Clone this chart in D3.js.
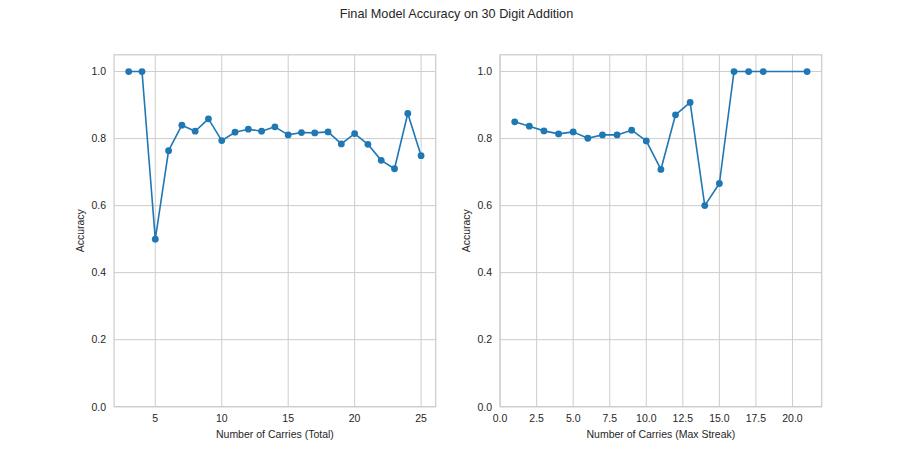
<!DOCTYPE html>
<html>
<head>
<meta charset="utf-8">
<script src="https://cdn.jsdelivr.net/npm/d3@7"></script>
<style>
  body { margin: 0; background: #fff; }
  svg text { font-family: "Liberation Sans", Arial, sans-serif; fill: #262626; }
</style>
</head>
<body>
<div id="chart"></div>
<script>
// Data
const totalCarries = [3, 4, 5, 6, 7, 8, 9, 10, 11, 12, 13, 14, 15, 16, 17, 18, 19, 20, 21, 22, 23, 24, 25];
const totalAcc = [1.0, 1.0, 0.5, 0.764, 0.840, 0.822, 0.859, 0.794, 0.819, 0.828, 0.822, 0.835, 0.811,
    0.818, 0.817, 0.820, 0.784, 0.815, 0.783, 0.735, 0.710, 0.875, 0.749];

const streakCarries = [1, 2, 3, 4, 5, 6, 7, 8, 9, 10, 11, 12, 13, 14, 15, 16, 17, 18, 21];
const streakAcc = [0.850, 0.837, 0.823, 0.814, 0.820, 0.801, 0.811, 0.811, 0.825, 0.793, 0.708,
    0.871, 0.908, 0.600, 0.666, 1.0, 1.0, 1.0, 1.0];

const totalTicks = [5, 10, 15, 20, 25];
const streakTicks = [0, 2.5, 5, 7.5, 10, 12.5, 15, 17.5, 20];
const yTicks = [0, 0.2, 0.4, 0.6, 0.8, 1.0];

const W = 913, H = 457;
const axTop = 54.8, axBottom = 406.7;
const axW = 321.6;
const gridColor = "#cccccc";
const lineColor = "#1f77b4";

var svg = d3.select("#chart")
    .append("svg")
    .attr("width", W)
    .attr("height", H);

svg.append("text")
    .attr("x", W / 2)
    .attr("y", 18)
    .attr("text-anchor", "middle")
    .style("font-size", "12.7px")
    .text("Final Model Accuracy on 30 Digit Addition");

function drawPanel(left, xs, ys, xDomain, xTicks, xFmt, xLabel) {
    var x = d3.scaleLinear().domain(xDomain).range([left, left + axW]);
    var y = d3.scaleLinear().domain([0, 1.05]).range([axBottom, axTop]);

    var g = svg.append("g");

    // grid
    g.append("g")
        .selectAll("line")
        .data(xTicks)
        .join("line")
        .attr("x1", d => x(d)).attr("x2", d => x(d))
        .attr("y1", axTop).attr("y2", axBottom)
        .attr("stroke", gridColor).attr("stroke-width", 1);

    g.append("g")
        .selectAll("line")
        .data(yTicks)
        .join("line")
        .attr("x1", left).attr("x2", left + axW)
        .attr("y1", d => y(d)).attr("y2", d => y(d))
        .attr("stroke", gridColor).attr("stroke-width", 1);

    // frame
    g.append("rect")
        .attr("x", left).attr("y", axTop)
        .attr("width", axW).attr("height", axBottom - axTop)
        .attr("fill", "none")
        .attr("stroke", gridColor).attr("stroke-width", 1.25);

    // tick labels
    g.append("g")
        .selectAll("text")
        .data(xTicks)
        .join("text")
        .attr("x", d => x(d))
        .attr("y", axBottom + 15)
        .attr("text-anchor", "middle")
        .style("font-size", "10.5px")
        .text(xFmt);

    g.append("g")
        .selectAll("text")
        .data(yTicks)
        .join("text")
        .attr("x", left - 8)
        .attr("y", d => y(d) + 3.8)
        .attr("text-anchor", "end")
        .style("font-size", "10.5px")
        .text(d => d.toFixed(1));

    // axis labels
    g.append("text")
        .attr("x", left + axW / 2)
        .attr("y", axBottom + 31)
        .attr("text-anchor", "middle")
        .style("font-size", "10.5px")
        .text(xLabel);

    g.append("text")
        .attr("transform", `translate(${left - 30}, ${(axTop + axBottom) / 2}) rotate(-90)`)
        .attr("text-anchor", "middle")
        .style("font-size", "10.5px")
        .text("Accuracy");

    var pts = xs.map((d, i) => ({ x: d, y: ys[i] }));

    var line = d3.line()
        .x(d => x(d.x))
        .y(d => y(d.y));

    g.append("path")
        .datum(pts)
        .attr("fill", "none")
        .attr("stroke", lineColor)
        .attr("stroke-width", 1.6)
        .attr("stroke-linejoin", "round")
        .attr("d", line);

    g.append("g")
        .selectAll("circle")
        .data(pts)
        .join("circle")
        .attr("cx", d => x(d.x))
        .attr("cy", d => y(d.y))
        .attr("r", 3.4)
        .attr("fill", lineColor);
}

drawPanel(114.1, totalCarries, totalAcc, [1.9, 26.1], totalTicks, d => d, "Number of Carries (Total)");
drawPanel(500.1, streakCarries, streakAcc, [0, 22], streakTicks, d => d.toFixed(1), "Number of Carries (Max Streak)");
</script>
</body>
</html>
